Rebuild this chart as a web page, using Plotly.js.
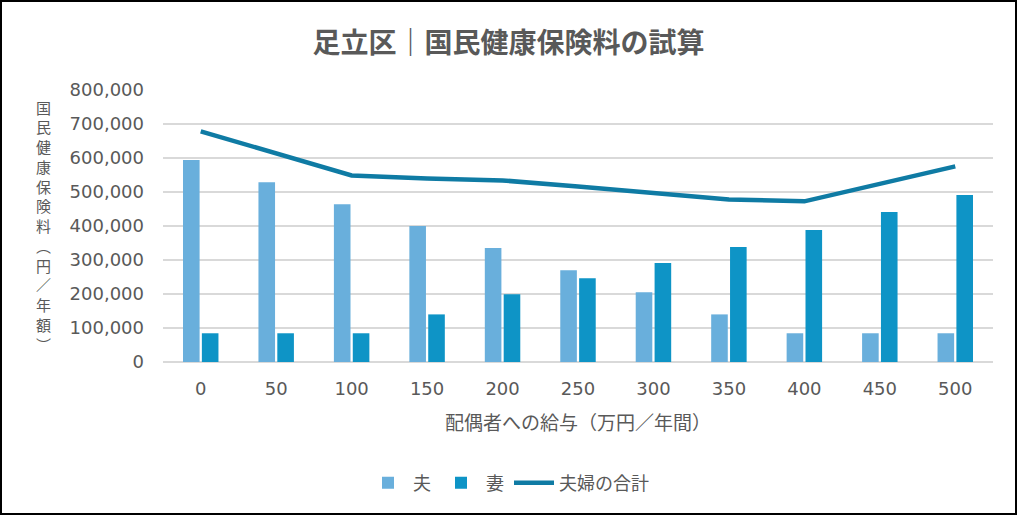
<!DOCTYPE html>
<html>
<head>
<meta charset="utf-8">
<script src="https://cdn.plot.ly/plotly-3.0.1.min.js"></script>
<style>
  body { margin: 0; background: #fff; }
  #wrap { position: relative; width: 1017px; height: 515px; }
  #frame { position: absolute; left: 0; top: 0; width: 1017px; height: 515px;
           box-sizing: border-box; border: 2px solid #000; pointer-events: none; }
</style>
</head>
<body>
<div id="wrap">
  <div id="chart"></div>
  <div id="frame"></div>
</div>
<script>
// 配偶者への給与（万円／年間）
const categories = ["0", "50", "100", "150", "200", "250", "300", "350", "400", "450", "500"];
// 夫
const husband = [594000, 529000, 464000, 400000, 335000, 270000, 205000, 140000, 84500, 84500, 84500];
// 妻
const wife = [84500, 84500, 84500, 140000, 199000, 246000, 291000, 338000, 388000, 441000, 491000];
// 夫婦の合計
const total = husband.map((h, i) => h + wife[i]);

const yTickVals = [0, 100000, 200000, 300000, 400000, 500000, 600000, 700000, 800000];
const yTickText = ["0", "100,000", "200,000", "300,000", "400,000", "500,000", "600,000", "700,000", "800,000"];

const yTitle = "国民健康保険料︵円／年額︶";

const font = "DejaVu Sans, Noto Sans CJK JP, sans-serif";
const cjk = "Noto Sans CJK JP, sans-serif";
const gray = "#595959";

const W = 1017, H = 515;
const plotLeft = 163, plotRight = 993, plotTop = 90, plotBottom = 361.7;

const data = [
  {
    x: categories, y: husband, type: "bar", name: "夫",
    marker: { color: "#69AFDC" }, hoverinfo: "y",
  },
  {
    x: categories, y: wife, type: "bar", name: "妻",
    marker: { color: "#0E94C6" }, hoverinfo: "y",
  },
  {
    x: categories, y: total, type: "scatter", mode: "lines", name: "夫婦の合計",
    line: { color: "#0F7BA4", width: 4.5 }, hoverinfo: "y",
  },
];

// vertical (upright) axis title, one glyph per line
const plotH = plotBottom - plotTop;
const annotations = yTitle.split("").map((ch, i) => ({
  text: ch,
  xref: "paper", yref: "paper",
  x: (44 - plotLeft) / (plotRight - plotLeft),
  y: (plotBottom - (107 + i * 19.75)) / plotH,
  xanchor: "center", yanchor: "middle",
  showarrow: false,
  font: { family: cjk, size: 15, color: gray },
}));

const layout = {
  width: W, height: H,
  margin: { l: plotLeft, r: W - plotRight, t: plotTop, b: H - plotBottom, pad: 0 },
  paper_bgcolor: "#fff", plot_bgcolor: "#fff",
  title: {
    text: "<b>足立区｜国民健康保険料の試算</b>",
    font: { family: cjk, size: 28, color: gray },
    x: 0.5, xref: "container", xanchor: "center",
    y: 1 - 43 / H, yref: "container", yanchor: "middle",
  },
  barmode: "group",
  bargap: 0.5,
  bargroupgap: 0.12,
  xaxis: {
    type: "category",
    tickfont: { family: font, size: 18, color: gray },
    ticks: "", ticklabelstandoff: 14,
    showgrid: false, showline: false,
    title: {
      text: "配偶者への給与（万円／年間）",
      font: { family: cjk, size: 19, color: gray },
      standoff: 18,
    },
    fixedrange: true,
  },
  yaxis: {
    range: [0, 800000],
    tickmode: "array", tickvals: yTickVals, ticktext: yTickText,
    tickfont: { family: font, size: 18, color: gray },
    ticks: "", ticklabelstandoff: 18,
    showgrid: true, gridcolor: "#D9D9D9", gridwidth: 1.5,
    zeroline: true, zerolinecolor: "#D9D9D9", zerolinewidth: 1.5,
    showline: false,
    fixedrange: true,
  },
  showlegend: true,
  legend: {
    orientation: "h",
    x: 0.5, xref: "container", xanchor: "center",
    y: 1 - 483 / H, yref: "container", yanchor: "middle",
    font: { family: cjk, size: 18, color: gray },
    itemwidth: 40,
    traceorder: "normal",
  },
  annotations: annotations,
  hovermode: "closest",
};

Plotly.newPlot("chart", data, layout, { displayModeBar: false, staticPlot: true });
</script>
</body>
</html>
